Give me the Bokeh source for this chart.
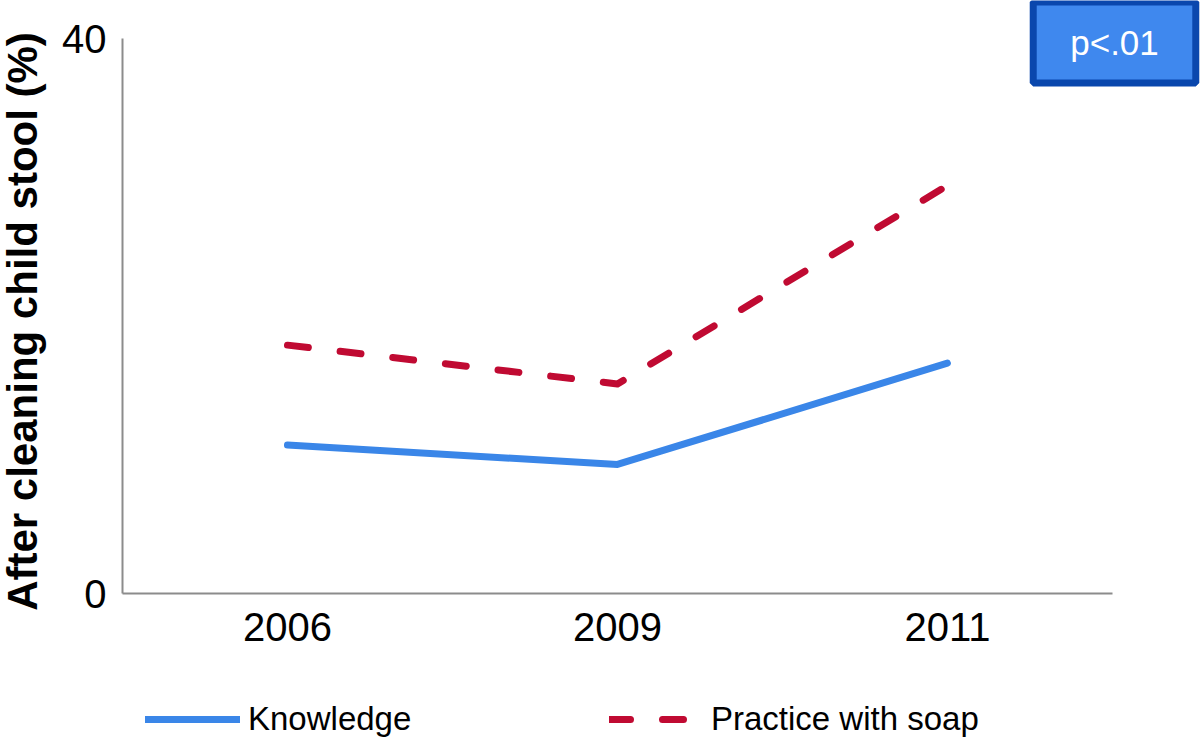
import math
from bokeh.plotting import figure
from bokeh.models import (Range1d, FixedTicker, Legend, LegendItem, Label, ColumnDataSource)
from bokeh.layouts import column
from bokeh.embed import file_html
from bokeh.resources import INLINE

years = ["2006", "2009", "2011"]
knowledge = [10.7, 9.3, 16.6]
practice = [17.9, 15.1, 29.4]
y_ticks = [0, 40]
y_label = "After cleaning child stool (%)"
badge_text = "p<.01"
series_names = ["Knowledge", "Practice with soap"]

FONT = "Liberation Sans"
BLUE = "#3a86e8"
RED = "#c00a32"
DASH = "21 32"

xpos = list(range(len(years)))

p = figure(width=1200, height=687, x_range=Range1d(-0.5, 2.767), y_range=Range1d(0, 42.74),
           output_backend="svg", toolbar_location=None,
           min_border_left=122, min_border_right=0, min_border_top=0, min_border_bottom=94)
p.outline_line_color = None
p.xgrid.grid_line_color = None
p.ygrid.grid_line_color = None

src = ColumnDataSource(dict(x=xpos, k=knowledge, pr=practice))
p.line("x", "k", source=src, line_color=BLUE, line_width=7, line_cap="round", line_join="round")
p.line("x", "pr", source=src, line_color=RED, line_width=7, line_cap="round", line_join="round",
       line_dash=DASH)

for ax in (p.xaxis[0], p.yaxis[0]):
    ax.axis_line_color = "#8c8c8c"
    ax.axis_line_width = 2
    ax.major_tick_line_color = None
    ax.minor_tick_line_color = None
    ax.major_label_text_font = FONT
    ax.major_label_text_font_size = "40px"
    ax.major_label_text_color = "black"

p.xaxis[0].ticker = FixedTicker(ticks=xpos)
p.xaxis[0].major_label_overrides = {i: y for i, y in zip(xpos, years)}
p.xaxis[0].bounds = (-0.5, 2.5)
p.xaxis[0].major_label_standoff = 13

p.yaxis[0].ticker = FixedTicker(ticks=y_ticks)
p.yaxis[0].bounds = (0, 40)
p.yaxis[0].major_label_standoff = 10

ytitle = Label(x=10, y=272, x_units="screen", y_units="screen", text=y_label, angle=math.pi / 2,
               text_align="center", text_baseline="middle",
               text_font=FONT, text_font_style="bold", text_font_size="42px", text_color="black")
p.add_layout(ytitle, "left")

badge = Label(x=992, y=551, x_units="screen", y_units="screen", text=badge_text,
              text_align="center", text_baseline="middle",
              text_font=FONT, text_font_size="35px", text_color="white",
              background_fill_color="#3f88ee", border_line_color="#0a47ad", border_line_width=7,
              padding=dict(left=37, right=37, top=21, bottom=21))
p.add_layout(badge)

# legend strip
q = figure(width=1200, height=50, x_range=Range1d(0, 1), y_range=Range1d(0, 1),
           output_backend="svg", toolbar_location=None, x_axis_type=None, y_axis_type=None,
           min_border_left=0, min_border_right=0, min_border_top=0, min_border_bottom=0)
q.outline_line_color = None
q.xgrid.grid_line_color = None
q.ygrid.grid_line_color = None
e = ColumnDataSource(dict(x=[float("nan")], y=[float("nan")]))
l1 = q.line("x", "y", source=e, line_color=BLUE, line_width=7, line_cap="round")
l2 = q.line("x", "y", source=e, line_color=RED, line_width=7, line_cap="round", line_dash=DASH)

def make_legend(item, loc, gw, standoff):
    lg = Legend(items=[item], location=loc, orientation="horizontal",
                glyph_width=gw, glyph_height=30, label_height=30,
                label_standoff=standoff, padding=0, margin=0, spacing=0,
                border_line_color=None, background_fill_alpha=0,
                label_text_font=FONT, label_text_font_size="33px", label_text_color="black")
    q.add_layout(lg, "center")

make_legend(LegendItem(label=series_names[0], renderers=[l1]), (23, -1), 95, 8)
make_legend(LegendItem(label=series_names[1], renderers=[l2]), (487, -1), 82, 20)

open("out.html", "w").write(file_html(column(p, q, spacing=0), INLINE))
